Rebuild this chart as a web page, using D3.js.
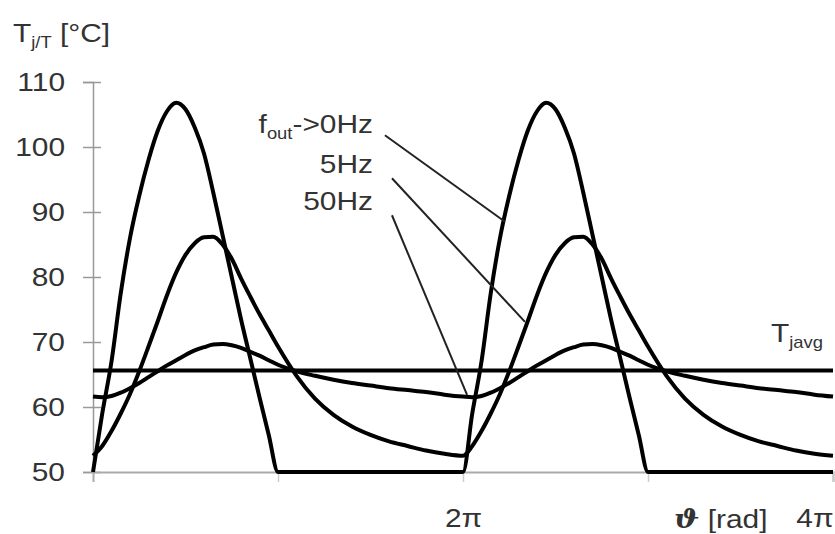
<!DOCTYPE html>
<html>
<head>
<meta charset="utf-8">
<script src="https://cdn.jsdelivr.net/npm/d3@7"></script>
<style>
  body { margin: 0; background: #fff; }
  svg text { font-family: "Liberation Sans", Arial, sans-serif; fill: #333; }
</style>
</head>
<body>
<div id="chart"></div>
<script>
// theta in units of pi, one period (0..2pi); the picture shows two identical periods
const theta = [0, 0.05, 0.1, 0.15, 0.2, 0.25, 0.3, 0.35, 0.4, 0.45, 0.5, 0.55, 0.6, 0.65, 0.7, 0.75, 0.8, 0.85, 0.9, 0.95, 1.0,
  1.1, 1.2, 1.3, 1.4, 1.5, 1.6, 1.7, 1.8, 1.9, 2.0];
const t0Hz = [50, 59, 67, 77.5, 86, 92.5, 98, 102.5, 105.5, 106.8, 105.8, 103, 99, 93, 86.5, 80, 73.5, 67.5, 61.5, 55.7, 50,
  50, 50, 50, 50, 50, 50, 50, 50, 50, 50];
const t5Hz = [52.5, 54, 56.3, 59, 62, 65.5, 69.3, 73.2, 77.2, 80.7, 83.4, 85.2, 86.1, 86.2, 85, 82.8, 79.8, 77, 74.3, 71.8, 69.3,
  64.8, 61.3, 58.8, 57, 55.7, 54.7, 54, 53.3, 52.8, 52.5];
const t50Hz = [61.6, 61.5, 61.7, 62.2, 62.9, 63.7, 64.6, 65.5, 66.4, 67.2, 68, 68.7, 69.2, 69.6, 69.7, 69.5, 69.1, 68.5, 67.9, 67.2, 66.5,
  65.5, 64.8, 64.2, 63.7, 63.3, 62.9, 62.6, 62.3, 61.9, 61.6];
const periods = [0, 2];
const tAvg = 65.6;
const yTicks = [50, 60, 70, 80, 90, 100, 110];
const xTicks = [1, 2, 3, 4];
const xTickLabels = {2: "2\u03c0", 4: "4\u03c0"};
// leader lines [from label, to curve] in (theta/pi, T)
const leaders = [
  [[1.578, 101.8], [2.227, 88.5]],
  [[1.616, 95.2], [2.335, 73.1]],
  [[1.616, 89.5], [2.022, 61.85]]
];

const W = 835, H = 534;
const margin = {left: 93, right: 2, top: 82, bottom: 62};
const fs = 26, sub = 16, sx = 1.15; // text in the original is a bit stretched

const svg = d3.select("#chart").append("svg")
  .attr("width", W)
  .attr("height", H);

const x = d3.scaleLinear().domain([0, 4]).range([margin.left, W - margin.right]);
const y = d3.scaleLinear().domain([50, 110]).range([H - margin.bottom, margin.top]);

// stretch text horizontally around its own anchor
const stretch = (sel) => sel.each(function () {
  const t = d3.select(this);
  const px = +t.attr("x") || 0;
  t.attr("x", px / sx).attr("transform", `scale(${sx},1)`);
});

// y axis
const yAxis = svg.append("g")
  .attr("transform", `translate(${margin.left},0)`)
  .call(d3.axisLeft(y).tickValues(yTicks).tickSize(10).tickPadding(18));
yAxis.select(".domain").attr("stroke", "#999").attr("stroke-width", 1.5);
yAxis.selectAll(".tick line").attr("x1", 8).attr("stroke", "#999").attr("stroke-width", 1.5);
yAxis.selectAll(".tick text").style("font-size", fs + "px").attr("fill", "#333").call(stretch);

// x axis
const xAxis = svg.append("g")
  .attr("transform", `translate(0,${y(50)})`)
  .call(d3.axisBottom(x).tickValues(xTicks).tickSize(10).tickPadding(27)
    .tickFormat(d => xTickLabels[d] || ""));
xAxis.select(".domain").attr("stroke", "#aaa").attr("stroke-width", 2);
xAxis.selectAll(".tick line").attr("stroke", "#ccc").attr("stroke-width", 1.5);
xAxis.selectAll(".tick text").style("font-size", fs + "px").attr("fill", "#333")
  .attr("text-anchor", d => d === 4 ? "end" : "middle").call(stretch);

// curves
const line = d3.line()
  .x(d => x(d[0]))
  .y(d => y(d[1]))
  .curve(d3.curveMonotoneX);

const series = [t50Hz, t5Hz, t0Hz];
const plot = svg.append("g");
series.forEach(vals => {
  const pts = [];
  periods.forEach(p => theta.forEach((t, i) => {
    if (p > 0 && i === 0) return;
    pts.push([t + p, vals[i]]);
  }));
  plot.append("path")
    .datum(pts)
    .attr("fill", "none")
    .attr("stroke", "#000")
    .attr("stroke-width", 4)
    .attr("stroke-linejoin", "round")
    .attr("d", line);
});

// average line
plot.append("line")
  .attr("x1", x(0)).attr("x2", x(4))
  .attr("y1", y(tAvg)).attr("y2", y(tAvg))
  .attr("stroke", "#000").attr("stroke-width", 4);

// leader lines
plot.selectAll(".leader")
  .data(leaders)
  .enter().append("line")
  .attr("class", "leader")
  .attr("x1", d => x(d[0][0])).attr("y1", d => y(d[0][1]))
  .attr("x2", d => x(d[1][0])).attr("y2", d => y(d[1][1]))
  .attr("stroke", "#222").attr("stroke-width", 2);

// labels
const lab = svg.append("g").style("font-size", fs + "px");

const title = lab.append("text").attr("x", 13).attr("y", 42);
title.append("tspan").text("T");
title.append("tspan").attr("dy", 6).style("font-size", sub + "px").text("j/T");
title.append("tspan").attr("dy", -6).text(" [\u00b0C]");

const f0 = lab.append("text").attr("x", 373).attr("y", 133).attr("text-anchor", "end");
f0.append("tspan").text("f");
f0.append("tspan").attr("dy", 6).style("font-size", sub + "px").text("out");
f0.append("tspan").attr("dy", -6).text("->0Hz");

lab.append("text").attr("x", 373).attr("y", 173).attr("text-anchor", "end").text("5Hz");
lab.append("text").attr("x", 373).attr("y", 210).attr("text-anchor", "end").text("50Hz");

const ta = lab.append("text").attr("x", 771).attr("y", 342);
ta.append("tspan").text("T");
ta.append("tspan").attr("dy", 6).style("font-size", sub + "px").text("javg");

const xl = lab.append("text").attr("x", 674).attr("y", 528);
xl.append("tspan").style("font-family", "DejaVu Serif").style("font-weight", "bold").style("font-style", "italic").text("\u03d1");
xl.append("tspan").text(" [rad]");

lab.selectAll("text").call(stretch);
</script>
</body>
</html>
